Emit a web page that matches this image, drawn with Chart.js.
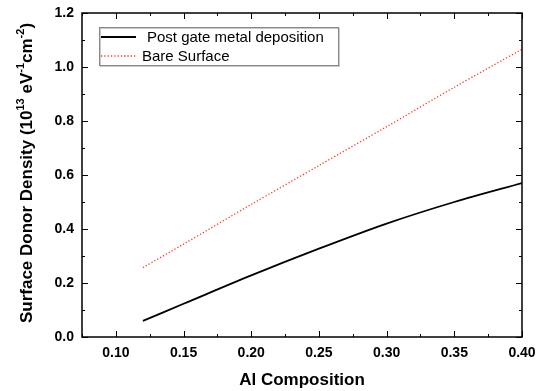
<!DOCTYPE html>
<html>
<head>
<meta charset="utf-8">
<script src="https://cdn.jsdelivr.net/npm/chart.js@4.4.0/dist/chart.umd.min.js"></script>
<style>
  html, body { margin: 0; padding: 0; background: #fff; }
  #wrap { width: 537px; height: 391px; }
</style>
</head>
<body>
<div id="wrap"><canvas id="chart" width="537" height="391"></canvas></div>
<script>
// Al composition (x) and surface donor density in 1e13 eV^-1 cm^-2
const composition = [0.12, 0.15, 0.20, 0.25, 0.30, 0.35, 0.40];
const postGate = [0.060, 0.123, 0.228, 0.327, 0.420, 0.500, 0.570];
const bareSurface = [0.257, 0.344, 0.491, 0.635, 0.779, 0.925, 1.066];

const xTicks = [0.10, 0.15, 0.20, 0.25, 0.30, 0.35, 0.40];
const yTicks = [0.0, 0.2, 0.4, 0.6, 0.8, 1.0, 1.2];

const seriesNames = ['Post gate metal deposition', 'Bare Surface'];

const toPoints = ys => composition.map((x, i) => ({ x: x, y: ys[i] }));

// inward ticks on all four sides, major + minor
const frameTicks = {
  id: 'frameTicks',
  afterDraw(chart) {
    const { ctx, chartArea: a, scales: { x, y } } = chart;
    ctx.save();
    ctx.strokeStyle = '#000';
    ctx.lineWidth = 1;
    ctx.beginPath();
    const xMinor = [];
    for (let v = 0.075; v <= 0.4001; v += 0.025) xMinor.push(v);
    xMinor.forEach(v => {
      const px = Math.round(x.getPixelForValue(v)) + 0.5;
      const major = xTicks.some(t => Math.abs(t - v) < 1e-6);
      const len = major ? 6 : 3;
      ctx.moveTo(px, a.bottom); ctx.lineTo(px, a.bottom - len);
      ctx.moveTo(px, a.top); ctx.lineTo(px, a.top + len);
    });
    for (let v = 0; v <= 1.2001; v += 0.1) {
      const py = Math.round(y.getPixelForValue(v)) + 0.5;
      const major = yTicks.some(t => Math.abs(t - v) < 1e-6);
      const len = major ? 6 : 3;
      ctx.moveTo(a.left, py); ctx.lineTo(a.left + len, py);
      ctx.moveTo(a.right, py); ctx.lineTo(a.right - len, py);
    }
    ctx.stroke();
    ctx.lineWidth = 1.5;
    ctx.strokeRect(a.left, a.top, a.right - a.left, a.bottom - a.top);
    ctx.restore();
  }
};

// boxed legend in the upper-left corner
const boxLegend = {
  id: 'boxLegend',
  afterDraw(chart) {
    const { ctx } = chart;
    const bx = 99, by = 27, bw = 239, bh = 38;
    ctx.save();
    ctx.fillStyle = '#fff';
    ctx.fillRect(bx, by, bw, bh);
    ctx.strokeStyle = '#c8c8c8';
    ctx.lineWidth = 1;
    ctx.strokeRect(bx + 1.5, by + 1.5, bw, bh);
    ctx.strokeStyle = '#888';
    ctx.strokeRect(bx + 0.5, by + 0.5, bw, bh);
    chart.data.datasets.forEach((ds, i) => {
      const ly = by + 10 + i * 19;
      ctx.beginPath();
      ctx.strokeStyle = ds.borderColor;
      ctx.lineWidth = ds.borderWidth;
      ctx.setLineDash(ds.borderDash || []);
      ctx.moveTo(bx + 2, ly); ctx.lineTo(bx + 37, ly);
      ctx.stroke();
      ctx.setLineDash([]);
      ctx.fillStyle = '#000';
      ctx.font = '15px "Liberation Sans", Arial, sans-serif';
      ctx.textBaseline = 'middle';
      ctx.fillText(ds.label, bx + (i === 0 ? 48 : 43), ly + 1);
    });
    ctx.restore();
  }
};

// rotated y title with superscripts
const yTitle = {
  id: 'yTitle',
  afterDraw(chart) {
    const { ctx, chartArea: a } = chart;
    const parts = [
      ['Surface Donor Density (10', false], ['13', true], [' eV', false],
      ['-1', true], ['cm', false], ['-2', true], [')', false]
    ];
    const big = 'bold 17px "Liberation Sans", Arial, sans-serif';
    const small = 'bold 11px "Liberation Sans", Arial, sans-serif';
    ctx.save();
    let total = 0;
    parts.forEach(([t, sup]) => { ctx.font = sup ? small : big; total += ctx.measureText(t).width; });
    ctx.translate(32, (a.top + a.bottom) / 2 - 2);
    ctx.rotate(-Math.PI / 2);
    ctx.fillStyle = '#000';
    ctx.textBaseline = 'alphabetic';
    let cx = -total / 2;
    parts.forEach(([t, sup]) => {
      ctx.font = sup ? small : big;
      ctx.fillText(t, cx, sup ? -8 : 0);
      cx += ctx.measureText(t).width;
    });
    ctx.restore();
  }
};

const tickFont = { family: '"Liberation Sans", Arial, sans-serif', size: 14, weight: 'bold' };

new Chart(document.getElementById('chart'), {
  type: 'line',
  data: {
    datasets: [
      {
        label: seriesNames[0],
        data: toPoints(postGate),
        borderColor: '#000',
        borderWidth: 1.8,
        pointRadius: 0,
        tension: 0.3,
        fill: false
      },
      {
        label: seriesNames[1],
        data: toPoints(bareSurface),
        borderColor: '#ff3b2f',
        borderWidth: 1.3,
        borderDash: [1.3, 2],
        pointRadius: 0,
        tension: 0.3,
        fill: false
      }
    ]
  },
  options: {
    responsive: false,
    animation: false,
    layout: { padding: { top: 13, right: 15, bottom: 0, left: 0 } },
    plugins: { legend: { display: false }, tooltip: { enabled: false } },
    scales: {
      x: {
        type: 'linear',
        min: 0.075,
        max: 0.40,
        afterBuildTicks: s => { s.ticks = xTicks.map(v => ({ value: v })); },
        afterFit: s => { s.height = 54; s.paddingLeft = 0; s.paddingRight = 0; },
        grid: { display: false, drawTicks: false },
        border: { display: false },
        ticks: { font: tickFont, color: '#000', padding: 8, maxRotation: 0, callback: v => v.toFixed(2) },
        title: {
          display: true,
          text: 'Al Composition',
          color: '#000',
          font: { family: '"Liberation Sans", Arial, sans-serif', size: 17, weight: 'bold' },
          padding: { top: 0, bottom: 0 }
        }
      },
      y: {
        type: 'linear',
        min: 0,
        max: 1.2,
        afterBuildTicks: s => { s.ticks = yTicks.map(v => ({ value: v })); },
        afterFit: s => { s.width = 82; s.paddingTop = 0; s.paddingBottom = 0; },
        grid: { display: false, drawTicks: false },
        border: { display: false },
        ticks: { font: tickFont, color: '#000', padding: 8, callback: v => v.toFixed(1) }
      }
    }
  },
  plugins: [frameTicks, boxLegend, yTitle]
});
</script>
</body>
</html>
